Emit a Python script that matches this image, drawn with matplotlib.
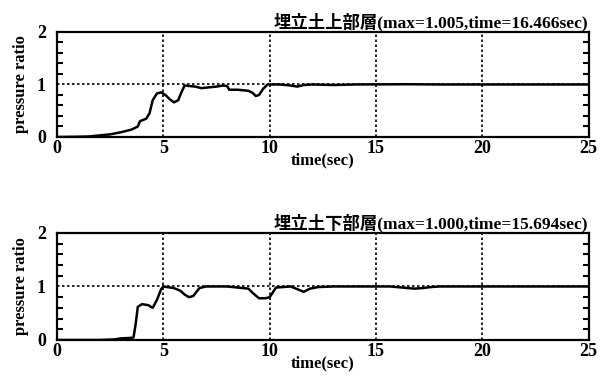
import matplotlib
matplotlib.use("Agg")
import matplotlib.pyplot as plt
import numpy as np
from matplotlib.ticker import MultipleLocator

plt.rcParams['font.family'] = ['Liberation Serif', 'Noto Sans CJK JP']
plt.rcParams['font.weight'] = 'bold'

# Upper layer series
t_upper = [0, 1.0, 1.5, 2.0, 2.5, 3.0, 3.5, 3.8, 3.9, 4.2, 4.35, 4.5, 4.7, 4.9, 5.1, 5.3, 5.5, 5.7, 5.85, 6.0,
           6.5, 6.8, 7.0, 7.5, 7.8, 8.0, 8.1, 8.5, 9.0, 9.2, 9.35, 9.5, 9.7, 9.9, 10.5, 11.0, 11.3, 11.6, 12.0,
           13.0, 14.0, 16.466, 18.0, 20.0, 22.0, 25.0]
p_upper = [0, 0.005, 0.01, 0.03, 0.05, 0.09, 0.14, 0.2, 0.3, 0.35, 0.45, 0.7, 0.83, 0.85, 0.8, 0.72, 0.66, 0.7, 0.85, 0.98,
           0.96, 0.93, 0.94, 0.96, 0.98, 0.97, 0.9, 0.9, 0.88, 0.84, 0.78, 0.8, 0.92, 1.0, 1.0, 0.98, 0.96, 0.99, 1.0,
           0.99, 1.0, 1.005, 1.0, 1.0, 1.0, 1.0]

# Lower layer series
t_lower = [0, 2.0, 2.7, 3.0, 3.5, 3.6, 3.7, 3.8, 4.0, 4.3, 4.5, 4.7, 4.9, 5.0, 5.5, 5.8, 6.0, 6.2, 6.4, 6.7, 7.0,
           8.0, 8.5, 9.0, 9.2, 9.5, 9.8, 10.0, 10.3, 11.0, 11.3, 11.6, 11.9, 12.3, 13.0, 15.694, 16.5, 16.8, 17.2,
           17.6, 18.0, 20.0, 25.0]
p_lower = [0, 0.0, 0.01, 0.03, 0.04, 0.05, 0.3, 0.62, 0.67, 0.65, 0.6, 0.75, 0.95, 1.0, 0.97, 0.92, 0.85, 0.8, 0.82, 0.97, 1.0,
           1.0, 0.98, 0.96, 0.88, 0.78, 0.78, 0.8, 0.98, 1.0, 0.95, 0.9, 0.96, 0.99, 1.0, 1.0, 0.97, 0.96, 0.97,
           0.99, 1.0, 1.0, 1.0]

titles = ['埋立土上部層(max=1.005,time=16.466sec)', '埋立土下部層(max=1.000,time=15.694sec)']
x_ticks = [0, 5, 10, 15, 20, 25]
y_ticks = [0, 1, 2]

fig = plt.figure(figsize=(6, 3.8), dpi=100)
positions = [[0.095, 0.6395, 0.886, 0.2763], [0.095, 0.1053, 0.886, 0.2816]]
series = [(t_upper, p_upper), (t_lower, p_lower)]

for pos, (t, p), title in zip(positions, series, titles):
    ax = fig.add_axes(pos)
    ax.set_xlim(0, 25)
    ax.set_ylim(0, 2)
    for xv in x_ticks[1:-1]:
        ax.axvline(xv, color='black', linestyle=(0, (1.5, 1.5)), linewidth=1.2, zorder=1)
    ax.axhline(1, color='black', linestyle=(0, (1.5, 1.5)), linewidth=1.2, zorder=1)
    ax.plot(t, p, color='black', linewidth=1.8, zorder=3)
    ax.set_xticks(x_ticks)
    ax.set_yticks(y_ticks)
    ax.yaxis.set_minor_locator(MultipleLocator(0.2))
    ax.tick_params(axis='x', which='both', length=0, labelsize=13, pad=2)
    ax.tick_params(axis='y', which='major', direction='in', length=0, labelsize=13, left=True, right=True, pad=8)
    ax.tick_params(axis='y', which='minor', direction='in', length=4, width=1.5, left=True, right=True)
    for lab in ax.get_xticklabels() + ax.get_yticklabels():
        lab.set_fontweight('bold')
    for sp in ax.spines.values():
        sp.set_linewidth(1.6)
    ax.set_ylabel('pressure ratio', fontsize=12, fontweight='bold', labelpad=6)
    ax.set_xlabel('time(sec)', fontsize=12, fontweight='bold', labelpad=-3)
    ax.set_title(title, loc='right', fontsize=12.5, fontweight='bold', pad=3)

fig.savefig('out.png', dpi=100)
